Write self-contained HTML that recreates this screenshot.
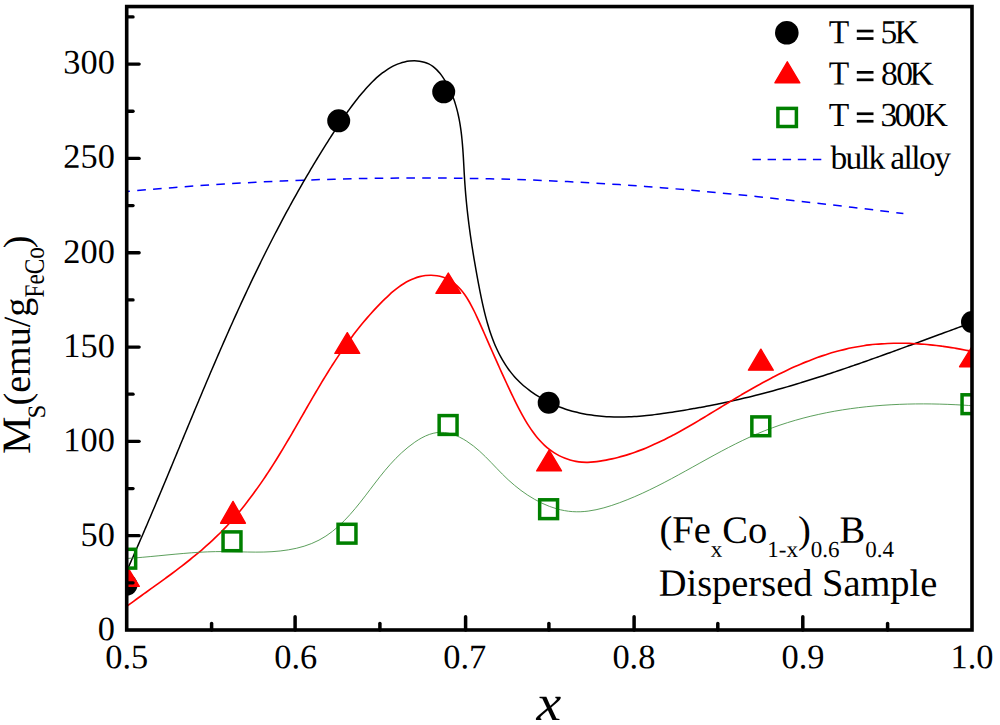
<!DOCTYPE html>
<html><head><meta charset="utf-8"><title>Ms vs x</title>
<style>
html,body{margin:0;padding:0;background:#fff;}
body{width:1000px;height:725px;overflow:hidden;}
svg{display:block;}
text{font-family:"Liberation Serif",serif;fill:#000;}
</style></head><body>
<svg width="1000" height="725" viewBox="0 0 1000 725">
<rect x="0" y="0" width="1000" height="725" fill="#fff"/>
<defs><clipPath id="plot"><rect x="126.70" y="6.55" width="845.30" height="623.45"/></clipPath></defs>
<g clip-path="url(#plot)">
<path d="M126.68 191.48 C131.00 191.10 143.92 189.95 152.55 189.23 C161.17 188.52 169.80 187.84 178.43 187.19 C187.06 186.54 195.69 185.92 204.33 185.34 C212.96 184.76 221.60 184.21 230.24 183.70 C238.88 183.18 247.52 182.70 256.16 182.26 C264.80 181.81 273.45 181.40 282.10 181.02 C290.74 180.65 299.39 180.30 308.04 180.00 C316.69 179.69 325.34 179.42 333.99 179.18 C342.64 178.94 351.29 178.74 359.94 178.58 C368.59 178.41 377.25 178.28 385.90 178.19 C394.55 178.09 403.21 178.03 411.86 178.01 C420.51 177.99 429.16 178.00 437.82 178.05 C446.47 178.11 455.12 178.19 463.77 178.32 C472.42 178.44 481.07 178.60 489.72 178.80 C498.37 179.00 507.02 179.24 515.67 179.51 C524.32 179.78 532.96 180.09 541.61 180.44 C550.25 180.79 558.89 181.18 567.53 181.61 C576.17 182.03 584.81 182.50 593.45 183.00 C602.08 183.50 610.72 184.04 619.35 184.62 C627.98 185.20 636.61 185.81 645.24 186.46 C653.86 187.11 662.49 187.80 671.11 188.51 C679.73 189.22 688.35 189.97 696.97 190.75 C705.59 191.52 714.20 192.33 722.82 193.16 C731.43 193.99 740.04 194.85 748.65 195.73 C757.26 196.61 765.86 197.51 774.47 198.44 C783.07 199.37 791.68 200.31 800.28 201.28 C808.88 202.25 817.47 203.23 826.07 204.23 C834.67 205.23 843.26 206.25 851.85 207.28 C860.44 208.31 869.03 209.36 877.62 210.41 C886.21 211.46 899.08 213.07 903.38 213.61" fill="none" stroke="#0000ff" stroke-width="1.5" stroke-dasharray="8.6 7.25" stroke-dashoffset="5.2"/>
<path d="M126.60 571.32 C126.94 570.55 127.97 568.25 128.66 566.72 C129.34 565.18 130.02 563.65 130.70 562.11 C131.38 560.58 132.06 559.04 132.74 557.51 C133.41 555.97 134.09 554.43 134.76 552.90 C135.44 551.36 136.11 549.82 136.78 548.28 C137.45 546.75 138.12 545.21 138.79 543.67 C139.46 542.13 140.13 540.59 140.79 539.05 C141.46 537.51 142.12 535.97 142.79 534.43 C143.45 532.89 144.11 531.35 144.77 529.81 C145.43 528.27 146.09 526.73 146.75 525.19 C147.41 523.64 148.07 522.10 148.72 520.56 C149.38 519.02 150.04 517.48 150.69 515.93 C151.35 514.39 152.00 512.85 152.65 511.30 C153.30 509.76 153.96 508.22 154.61 506.67 C155.26 505.13 155.91 503.59 156.56 502.04 C157.21 500.50 157.86 498.95 158.50 497.41 C159.15 495.86 159.80 494.32 160.45 492.78 C161.09 491.23 161.74 489.69 162.38 488.14 C163.03 486.60 163.67 485.05 164.32 483.50 C164.96 481.96 165.61 480.41 166.25 478.87 C166.89 477.32 167.53 475.78 168.18 474.23 C168.82 472.69 169.46 471.14 170.10 469.59 C170.75 468.05 171.39 466.50 172.03 464.96 C172.67 463.41 173.31 461.86 173.95 460.32 C174.59 458.77 175.23 457.23 175.87 455.68 C176.51 454.13 177.15 452.59 177.79 451.04 C178.43 449.50 179.07 447.95 179.71 446.40 C180.35 444.86 180.99 443.31 181.63 441.77 C182.27 440.22 182.91 438.68 183.55 437.13 C184.19 435.58 184.83 434.04 185.47 432.49 C186.12 430.95 186.76 429.40 187.40 427.86 C188.04 426.31 188.68 424.77 189.32 423.22 C189.96 421.68 190.60 420.13 191.25 418.59 C191.89 417.04 192.53 415.50 193.17 413.96 C193.82 412.41 194.46 410.87 195.11 409.32 C195.75 407.78 196.39 406.24 197.04 404.69 C197.68 403.15 198.33 401.61 198.98 400.07 C199.62 398.52 200.27 396.98 200.92 395.44 C201.56 393.90 202.21 392.35 202.86 390.81 C203.51 389.27 204.16 387.73 204.81 386.19 C205.46 384.65 206.11 383.11 206.77 381.57 C207.42 380.03 208.07 378.49 208.73 376.95 C209.38 375.41 210.03 373.87 210.69 372.33 C211.35 370.79 212.00 369.26 212.66 367.72 C213.32 366.18 213.98 364.64 214.64 363.11 C215.30 361.57 215.96 360.03 216.63 358.50 C217.29 356.96 217.95 355.42 218.62 353.89 C219.28 352.35 219.95 350.82 220.62 349.28 C221.28 347.75 221.95 346.22 222.62 344.68 C223.29 343.15 223.97 341.62 224.64 340.09 C225.31 338.55 225.99 337.02 226.67 335.49 C227.34 333.96 228.02 332.43 228.70 330.90 C229.38 329.37 230.06 327.84 230.74 326.31 C231.42 324.78 232.11 323.26 232.80 321.73 C233.48 320.20 234.17 318.67 234.86 317.15 C235.55 315.62 236.24 314.10 236.93 312.57 C237.63 311.05 238.32 309.52 239.02 308.00 C239.72 306.48 240.41 304.95 241.11 303.43 C241.82 301.91 242.52 300.39 243.22 298.87 C243.93 297.35 244.63 295.83 245.34 294.31 C246.05 292.79 246.76 291.27 247.48 289.75 C248.19 288.24 248.91 286.72 249.62 285.20 C250.34 283.69 251.06 282.17 251.78 280.66 C252.50 279.15 253.23 277.63 253.96 276.12 C254.68 274.61 255.41 273.10 256.14 271.58 C256.87 270.07 257.61 268.56 258.34 267.05 C259.08 265.55 259.82 264.04 260.56 262.53 C261.30 261.02 262.05 259.52 262.79 258.01 C263.54 256.51 264.29 255.00 265.04 253.50 C265.79 251.99 266.54 250.49 267.30 248.99 C268.06 247.49 268.82 245.99 269.58 244.49 C270.34 242.99 271.10 241.49 271.87 240.00 C272.64 238.50 273.41 237.01 274.18 235.51 C274.95 234.02 275.73 232.53 276.50 231.04 C277.28 229.55 278.06 228.06 278.84 226.57 C279.62 225.08 280.41 223.59 281.20 222.11 C281.98 220.63 282.77 219.14 283.57 217.66 C284.36 216.18 285.16 214.70 285.95 213.22 C286.75 211.74 287.55 210.27 288.36 208.79 C289.16 207.32 289.96 205.84 290.77 204.37 C291.58 202.90 292.39 201.43 293.21 199.97 C294.02 198.50 294.84 197.03 295.66 195.57 C296.48 194.11 297.30 192.65 298.12 191.19 C298.95 189.73 299.77 188.27 300.60 186.82 C301.43 185.36 302.27 183.91 303.10 182.46 C303.94 181.01 304.78 179.56 305.62 178.12 C306.46 176.67 307.30 175.23 308.15 173.79 C308.99 172.34 309.84 170.91 310.69 169.47 C311.55 168.03 312.40 166.60 313.26 165.17 C314.11 163.74 314.97 162.31 315.84 160.88 C316.70 159.46 317.57 158.03 318.43 156.61 C319.30 155.19 320.17 153.77 321.05 152.36 C321.92 150.94 322.80 149.53 323.68 148.12 C324.56 146.71 325.44 145.30 326.32 143.90 C327.21 142.49 328.09 141.09 328.99 139.69 C329.88 138.30 330.77 136.90 331.66 135.51 C332.56 134.12 333.46 132.73 334.36 131.34 C335.26 129.96 336.17 128.57 337.08 127.19 C337.99 125.81 338.90 124.44 339.82 123.06 C340.74 121.69 341.67 120.32 342.61 118.96 C343.54 117.59 344.48 116.23 345.44 114.87 C346.39 113.51 347.35 112.16 348.32 110.81 C349.30 109.46 350.28 108.12 351.28 106.77 C352.27 105.43 353.28 104.10 354.31 102.76 C355.33 101.43 356.37 100.10 357.42 98.78 C358.48 97.46 359.55 96.14 360.64 94.83 C361.73 93.51 362.83 92.20 363.96 90.90 C365.08 89.60 366.22 88.30 367.39 87.03 C368.55 85.75 369.74 84.49 370.94 83.25 C372.15 82.02 373.37 80.80 374.62 79.62 C375.87 78.44 377.14 77.28 378.44 76.17 C379.74 75.06 381.05 73.98 382.40 72.96 C383.74 71.93 385.11 70.95 386.51 70.02 C387.90 69.10 389.32 68.22 390.77 67.41 C392.22 66.60 393.69 65.85 395.20 65.17 C396.70 64.49 398.23 63.88 399.79 63.34 C401.36 62.81 402.95 62.35 404.57 61.98 C406.19 61.61 407.85 61.31 409.51 61.12 C411.16 60.93 412.85 60.82 414.51 60.83 C416.17 60.83 417.85 60.93 419.47 61.15 C421.09 61.38 422.71 61.70 424.26 62.16 C425.81 62.61 427.32 63.19 428.76 63.90 C430.19 64.60 431.56 65.46 432.86 66.41 C434.16 67.36 435.39 68.45 436.57 69.60 C437.74 70.75 438.85 72.01 439.91 73.31 C440.96 74.61 441.96 76.00 442.91 77.40 C443.87 78.79 444.77 80.25 445.63 81.70 C446.49 83.15 447.30 84.63 448.08 86.11 C448.85 87.60 449.59 89.10 450.28 90.62 C450.98 92.13 451.63 93.66 452.25 95.20 C452.87 96.74 453.45 98.30 454.00 99.87 C454.55 101.43 455.07 103.01 455.55 104.60 C456.04 106.19 456.49 107.79 456.91 109.40 C457.34 111.01 457.73 112.63 458.10 114.26 C458.47 115.89 458.81 117.53 459.13 119.17 C459.45 120.82 459.74 122.47 460.02 124.13 C460.29 125.79 460.54 127.46 460.78 129.13 C461.01 130.81 461.23 132.49 461.42 134.17 C461.62 135.85 461.80 137.54 461.97 139.23 C462.14 140.92 462.30 142.62 462.44 144.32 C462.58 146.02 462.71 147.72 462.84 149.42 C462.96 151.12 463.07 152.83 463.18 154.53 C463.29 156.24 463.39 157.94 463.49 159.65 C463.59 161.35 463.68 163.06 463.77 164.76 C463.87 166.46 463.96 168.17 464.05 169.87 C464.14 171.57 464.23 173.26 464.33 174.96 C464.43 176.65 464.53 178.34 464.64 180.03 C464.74 181.71 464.86 183.40 464.98 185.07 C465.10 186.75 465.22 188.42 465.35 190.09 C465.49 191.76 465.62 193.43 465.77 195.09 C465.91 196.75 466.06 198.41 466.22 200.07 C466.37 201.72 466.53 203.38 466.70 205.03 C466.87 206.68 467.04 208.32 467.22 209.97 C467.40 211.62 467.58 213.26 467.77 214.90 C467.96 216.54 468.16 218.18 468.36 219.82 C468.56 221.46 468.76 223.09 468.97 224.73 C469.18 226.37 469.40 228.00 469.62 229.63 C469.84 231.27 470.06 232.90 470.29 234.54 C470.52 236.17 470.76 237.80 471.00 239.43 C471.24 241.07 471.48 242.70 471.73 244.33 C471.98 245.97 472.24 247.60 472.50 249.24 C472.75 250.87 473.02 252.51 473.28 254.15 C473.55 255.78 473.82 257.42 474.10 259.06 C474.37 260.70 474.65 262.35 474.94 263.99 C475.22 265.64 475.51 267.28 475.80 268.93 C476.09 270.58 476.39 272.23 476.69 273.89 C476.99 275.54 477.29 277.20 477.60 278.86 C477.91 280.52 478.22 282.18 478.53 283.85 C478.85 285.52 479.17 287.19 479.49 288.86 C479.81 290.53 480.14 292.21 480.48 293.88 C480.81 295.56 481.15 297.24 481.51 298.91 C481.86 300.59 482.21 302.26 482.58 303.93 C482.95 305.61 483.33 307.28 483.72 308.94 C484.11 310.61 484.51 312.27 484.93 313.93 C485.35 315.59 485.77 317.24 486.22 318.89 C486.66 320.54 487.12 322.18 487.59 323.81 C488.07 325.44 488.56 327.06 489.07 328.68 C489.58 330.29 490.10 331.90 490.65 333.49 C491.19 335.09 491.76 336.67 492.34 338.24 C492.93 339.81 493.54 341.37 494.17 342.92 C494.80 344.46 495.45 345.99 496.13 347.51 C496.81 349.03 497.51 350.53 498.24 352.01 C498.96 353.50 499.71 354.97 500.50 356.42 C501.28 357.86 502.08 359.30 502.92 360.71 C503.76 362.12 504.62 363.52 505.52 364.89 C506.42 366.26 507.34 367.61 508.30 368.94 C509.26 370.27 510.25 371.57 511.28 372.86 C512.31 374.14 513.36 375.40 514.46 376.63 C515.55 377.87 516.68 379.07 517.85 380.26 C519.01 381.44 520.21 382.59 521.44 383.72 C522.67 384.85 523.94 385.96 525.22 387.03 C526.51 388.10 527.84 389.15 529.18 390.17 C530.52 391.19 531.90 392.18 533.29 393.15 C534.68 394.11 536.10 395.05 537.54 395.95 C538.98 396.86 540.44 397.73 541.91 398.58 C543.39 399.43 544.88 400.25 546.39 401.03 C547.90 401.82 549.42 402.58 550.96 403.30 C552.49 404.03 554.04 404.72 555.59 405.38 C557.15 406.05 558.72 406.68 560.29 407.28 C561.86 407.88 563.44 408.44 565.03 408.98 C566.61 409.52 568.21 410.02 569.80 410.50 C571.40 410.97 573.00 411.42 574.61 411.84 C576.22 412.25 577.84 412.64 579.46 413.00 C581.08 413.36 582.70 413.69 584.33 414.00 C585.96 414.31 587.59 414.59 589.23 414.84 C590.87 415.10 592.51 415.33 594.16 415.54 C595.80 415.74 597.45 415.92 599.11 416.08 C600.76 416.24 602.42 416.38 604.08 416.50 C605.74 416.61 607.40 416.70 609.07 416.78 C610.73 416.85 612.40 416.90 614.07 416.93 C615.74 416.97 617.42 416.98 619.09 416.98 C620.77 416.97 622.44 416.95 624.12 416.91 C625.80 416.87 627.48 416.81 629.16 416.74 C630.85 416.67 632.53 416.58 634.21 416.48 C635.90 416.38 637.58 416.26 639.27 416.13 C640.95 416.00 642.64 415.85 644.32 415.70 C646.01 415.54 647.69 415.37 649.38 415.19 C651.06 415.01 652.75 414.82 654.43 414.62 C656.11 414.42 657.80 414.21 659.48 413.99 C661.16 413.77 662.84 413.54 664.52 413.31 C666.20 413.07 667.88 412.83 669.56 412.58 C671.23 412.33 672.91 412.07 674.58 411.81 C676.25 411.55 677.92 411.28 679.59 411.01 C681.26 410.74 682.92 410.46 684.58 410.18 C686.24 409.91 687.90 409.62 689.56 409.34 C691.22 409.05 692.87 408.76 694.52 408.46 C696.18 408.17 697.83 407.87 699.47 407.56 C701.12 407.26 702.77 406.95 704.41 406.64 C706.05 406.33 707.70 406.01 709.33 405.69 C710.97 405.37 712.61 405.05 714.25 404.72 C715.88 404.39 717.52 404.06 719.15 403.72 C720.78 403.38 722.41 403.04 724.04 402.69 C725.67 402.35 727.30 402.00 728.92 401.64 C730.55 401.29 732.17 400.93 733.80 400.56 C735.42 400.20 737.04 399.83 738.66 399.45 C740.28 399.08 741.90 398.70 743.52 398.32 C745.14 397.94 746.76 397.55 748.37 397.16 C749.99 396.77 751.60 396.37 753.22 395.97 C754.83 395.57 756.45 395.16 758.06 394.75 C759.68 394.34 761.29 393.92 762.90 393.50 C764.51 393.08 766.12 392.65 767.73 392.22 C769.35 391.79 770.96 391.36 772.57 390.92 C774.17 390.48 775.78 390.04 777.39 389.59 C779.00 389.14 780.61 388.69 782.22 388.23 C783.82 387.77 785.43 387.31 787.04 386.85 C788.64 386.38 790.25 385.92 791.85 385.44 C793.46 384.97 795.06 384.49 796.66 384.01 C798.27 383.53 799.87 383.05 801.47 382.56 C803.07 382.07 804.68 381.58 806.28 381.09 C807.88 380.59 809.48 380.09 811.08 379.59 C812.68 379.09 814.28 378.59 815.88 378.08 C817.47 377.57 819.07 377.06 820.67 376.54 C822.27 376.03 823.86 375.51 825.46 374.99 C827.06 374.47 828.65 373.95 830.25 373.42 C831.84 372.90 833.44 372.37 835.03 371.84 C836.62 371.31 838.22 370.77 839.81 370.24 C841.40 369.70 842.99 369.16 844.58 368.62 C846.18 368.08 847.77 367.54 849.36 366.99 C850.95 366.45 852.54 365.90 854.12 365.35 C855.71 364.80 857.30 364.25 858.89 363.69 C860.48 363.14 862.06 362.58 863.65 362.03 C865.24 361.47 866.82 360.91 868.41 360.35 C869.99 359.79 871.58 359.23 873.16 358.66 C874.74 358.10 876.33 357.54 877.91 356.97 C879.49 356.40 881.07 355.84 882.66 355.27 C884.24 354.70 885.82 354.13 887.40 353.56 C888.98 352.99 890.56 352.41 892.14 351.84 C893.72 351.27 895.29 350.69 896.87 350.12 C898.45 349.55 900.03 348.97 901.60 348.40 C903.18 347.82 904.76 347.24 906.33 346.67 C907.91 346.09 909.48 345.51 911.06 344.93 C912.63 344.36 914.20 343.78 915.78 343.20 C917.35 342.62 918.92 342.05 920.49 341.47 C922.06 340.89 923.63 340.31 925.21 339.73 C926.78 339.15 928.35 338.58 929.91 338.00 C931.48 337.42 933.05 336.84 934.62 336.27 C936.19 335.69 937.76 335.11 939.32 334.54 C940.89 333.96 942.45 333.39 944.02 332.81 C945.59 332.24 947.15 331.66 948.71 331.09 C950.28 330.52 951.84 329.94 953.41 329.37 C954.97 328.80 956.53 328.23 958.09 327.66 C959.65 327.09 961.22 326.53 962.78 325.96 C964.34 325.39 965.90 324.83 967.46 324.26 C969.01 323.70 971.35 322.86 972.13 322.57" fill="none" stroke="#000" stroke-width="1.5"/>
<path d="M126.64 606.42 C127.45 605.82 129.87 604.03 131.50 602.84 C133.12 601.65 134.74 600.47 136.37 599.29 C138.00 598.10 139.64 596.93 141.27 595.75 C142.90 594.57 144.54 593.39 146.18 592.22 C147.81 591.04 149.45 589.86 151.09 588.68 C152.73 587.51 154.36 586.33 156.00 585.15 C157.64 583.97 159.27 582.79 160.91 581.60 C162.54 580.42 164.17 579.23 165.80 578.04 C167.43 576.85 169.06 575.66 170.68 574.46 C172.30 573.26 173.91 572.05 175.53 570.84 C177.14 569.63 178.75 568.42 180.35 567.19 C181.95 565.97 183.54 564.74 185.13 563.50 C186.72 562.26 188.30 561.01 189.87 559.76 C191.44 558.50 193.01 557.24 194.56 555.96 C196.12 554.69 197.67 553.41 199.20 552.11 C200.74 550.81 202.26 549.51 203.78 548.19 C205.29 546.87 206.80 545.54 208.29 544.19 C209.78 542.85 211.26 541.49 212.73 540.12 C214.19 538.75 215.64 537.36 217.08 535.96 C218.52 534.56 219.95 533.14 221.36 531.71 C222.77 530.28 224.16 528.83 225.54 527.37 C226.92 525.91 228.29 524.43 229.64 522.94 C231.00 521.44 232.34 519.94 233.66 518.42 C234.99 516.90 236.30 515.37 237.60 513.82 C238.90 512.28 240.18 510.72 241.46 509.15 C242.73 507.58 243.99 506.00 245.24 504.41 C246.49 502.82 247.73 501.22 248.96 499.61 C250.18 498.00 251.40 496.37 252.60 494.74 C253.81 493.11 255.00 491.47 256.18 489.83 C257.36 488.18 258.53 486.52 259.69 484.86 C260.86 483.20 262.01 481.53 263.15 479.85 C264.29 478.17 265.42 476.49 266.54 474.80 C267.66 473.11 268.78 471.41 269.88 469.71 C270.98 468.01 272.08 466.31 273.17 464.60 C274.25 462.89 275.33 461.18 276.40 459.46 C277.47 457.75 278.53 456.02 279.59 454.30 C280.64 452.58 281.69 450.86 282.73 449.13 C283.77 447.40 284.81 445.68 285.83 443.95 C286.86 442.22 287.88 440.48 288.90 438.75 C289.92 437.02 290.93 435.29 291.94 433.55 C292.95 431.82 293.96 430.08 294.96 428.35 C295.97 426.61 296.97 424.88 297.97 423.14 C298.96 421.40 299.96 419.67 300.96 417.93 C301.95 416.20 302.95 414.46 303.94 412.73 C304.94 411.00 305.93 409.26 306.93 407.53 C307.93 405.80 308.92 404.07 309.92 402.34 C310.92 400.61 311.92 398.88 312.93 397.16 C313.93 395.43 314.94 393.71 315.95 391.99 C316.96 390.27 317.98 388.55 319.00 386.84 C320.02 385.12 321.04 383.41 322.07 381.70 C323.10 379.99 324.14 378.28 325.18 376.58 C326.23 374.88 327.28 373.18 328.34 371.49 C329.40 369.79 330.46 368.10 331.54 366.42 C332.61 364.73 333.69 363.05 334.79 361.37 C335.88 359.70 336.98 358.02 338.10 356.36 C339.21 354.69 340.33 353.03 341.47 351.38 C342.61 349.72 343.75 348.07 344.91 346.43 C346.07 344.78 347.24 343.15 348.43 341.51 C349.62 339.88 350.82 338.26 352.03 336.64 C353.24 335.02 354.47 333.41 355.72 331.81 C356.96 330.21 358.22 328.61 359.50 327.02 C360.77 325.43 362.06 323.85 363.37 322.28 C364.68 320.71 366.01 319.14 367.36 317.59 C368.70 316.03 370.06 314.48 371.45 312.94 C372.83 311.41 374.23 309.88 375.65 308.35 C377.08 306.83 378.52 305.32 379.98 303.82 C381.45 302.32 382.93 300.83 384.44 299.36 C385.95 297.90 387.47 296.45 389.03 295.05 C390.58 293.65 392.15 292.27 393.75 290.96 C395.35 289.64 396.97 288.36 398.62 287.17 C400.27 285.97 401.94 284.82 403.64 283.76 C405.34 282.70 407.06 281.70 408.81 280.81 C410.56 279.92 412.34 279.10 414.14 278.40 C415.95 277.70 417.78 277.09 419.64 276.62 C421.50 276.14 423.39 275.76 425.31 275.53 C427.22 275.29 429.19 275.18 431.13 275.21 C433.07 275.24 435.05 275.40 436.97 275.70 C438.88 276.00 440.80 276.44 442.62 277.02 C444.45 277.60 446.22 278.32 447.91 279.17 C449.59 280.02 451.19 281.02 452.73 282.13 C454.26 283.23 455.72 284.47 457.12 285.79 C458.52 287.11 459.85 288.55 461.13 290.06 C462.41 291.57 463.63 293.18 464.81 294.84 C465.98 296.51 467.10 298.25 468.19 300.04 C469.27 301.82 470.31 303.67 471.31 305.54 C472.32 307.40 473.29 309.32 474.23 311.25 C475.18 313.17 476.09 315.12 476.99 317.07 C477.89 319.01 478.76 320.97 479.62 322.90 C480.49 324.83 481.34 326.75 482.18 328.65 C483.02 330.55 483.85 332.43 484.68 334.29 C485.50 336.16 486.32 338.01 487.13 339.85 C487.94 341.69 488.74 343.52 489.54 345.33 C490.34 347.15 491.14 348.95 491.93 350.75 C492.73 352.55 493.52 354.34 494.31 356.13 C495.10 357.91 495.89 359.69 496.68 361.46 C497.47 363.24 498.26 365.01 499.06 366.78 C499.86 368.56 500.65 370.32 501.46 372.10 C502.26 373.87 503.07 375.64 503.88 377.42 C504.70 379.19 505.52 380.97 506.35 382.76 C507.18 384.55 508.01 386.34 508.86 388.14 C509.71 389.94 510.57 391.74 511.44 393.56 C512.31 395.38 513.19 397.22 514.09 399.05 C514.98 400.89 515.89 402.75 516.82 404.60 C517.75 406.45 518.70 408.31 519.67 410.16 C520.64 412.01 521.62 413.86 522.64 415.68 C523.66 417.51 524.70 419.33 525.77 421.12 C526.84 422.90 527.94 424.68 529.08 426.41 C530.21 428.15 531.38 429.86 532.59 431.53 C533.79 433.19 535.03 434.83 536.32 436.41 C537.60 437.99 538.92 439.53 540.29 441.01 C541.66 442.48 543.08 443.92 544.54 445.27 C546.00 446.63 547.51 447.94 549.08 449.16 C550.64 450.38 552.26 451.54 553.93 452.62 C555.59 453.69 557.31 454.69 559.07 455.61 C560.83 456.52 562.63 457.35 564.47 458.09 C566.30 458.83 568.18 459.49 570.08 460.04 C571.99 460.59 573.92 461.06 575.88 461.42 C577.84 461.77 579.82 462.03 581.82 462.18 C583.82 462.33 585.84 462.36 587.87 462.32 C589.89 462.27 591.93 462.11 593.96 461.91 C595.99 461.71 598.03 461.43 600.04 461.13 C602.06 460.83 604.06 460.48 606.05 460.11 C608.04 459.73 610.02 459.33 611.98 458.89 C613.95 458.45 615.90 457.98 617.84 457.48 C619.78 456.98 621.71 456.45 623.63 455.89 C625.55 455.33 627.45 454.74 629.35 454.13 C631.25 453.52 633.13 452.88 635.01 452.21 C636.88 451.54 638.75 450.85 640.61 450.14 C642.47 449.42 644.32 448.68 646.16 447.92 C648.00 447.16 649.83 446.38 651.65 445.58 C653.48 444.78 655.30 443.95 657.11 443.11 C658.92 442.27 660.72 441.41 662.51 440.53 C664.31 439.65 666.10 438.76 667.89 437.85 C669.67 436.94 671.45 436.01 673.22 435.07 C675.00 434.13 676.77 433.17 678.53 432.21 C680.30 431.24 682.06 430.26 683.81 429.27 C685.57 428.29 687.32 427.28 689.07 426.27 C690.82 425.27 692.57 424.25 694.32 423.22 C696.06 422.20 697.80 421.16 699.54 420.12 C701.28 419.08 703.02 418.04 704.76 416.99 C706.50 415.94 708.24 414.88 709.97 413.83 C711.71 412.77 713.45 411.71 715.18 410.65 C716.92 409.59 718.66 408.53 720.40 407.47 C722.14 406.41 723.87 405.35 725.62 404.29 C727.36 403.23 729.10 402.18 730.84 401.12 C732.59 400.07 734.34 399.02 736.09 397.98 C737.84 396.94 739.59 395.90 741.34 394.86 C743.10 393.83 744.86 392.80 746.62 391.78 C748.38 390.76 750.14 389.74 751.91 388.74 C753.68 387.73 755.45 386.73 757.22 385.74 C758.99 384.75 760.77 383.77 762.55 382.80 C764.33 381.83 766.11 380.86 767.90 379.91 C769.69 378.96 771.48 378.02 773.28 377.09 C775.07 376.16 776.87 375.25 778.68 374.34 C780.48 373.44 782.29 372.55 784.11 371.67 C785.92 370.79 787.74 369.93 789.56 369.08 C791.38 368.23 793.21 367.40 795.04 366.58 C796.87 365.76 798.71 364.96 800.55 364.17 C802.40 363.39 804.24 362.62 806.10 361.87 C807.95 361.12 809.81 360.39 811.67 359.67 C813.54 358.96 815.41 358.26 817.29 357.59 C819.16 356.91 821.04 356.26 822.93 355.62 C824.82 354.99 826.71 354.38 828.62 353.79 C830.52 353.20 832.42 352.63 834.34 352.08 C836.25 351.53 838.17 351.01 840.10 350.51 C842.03 350.01 843.96 349.54 845.90 349.09 C847.84 348.64 849.79 348.21 851.75 347.81 C853.70 347.41 855.66 347.04 857.63 346.69 C859.60 346.35 861.58 346.03 863.57 345.74 C865.55 345.45 867.54 345.18 869.54 344.94 C871.54 344.70 873.54 344.49 875.55 344.30 C877.56 344.12 879.58 343.96 881.59 343.82 C883.61 343.68 885.63 343.57 887.66 343.48 C889.68 343.39 891.71 343.32 893.74 343.28 C895.77 343.24 897.81 343.22 899.84 343.22 C901.87 343.22 903.91 343.25 905.94 343.29 C907.97 343.34 910.01 343.41 912.04 343.49 C914.08 343.58 916.11 343.69 918.14 343.82 C920.17 343.94 922.20 344.09 924.22 344.26 C926.25 344.42 928.27 344.61 930.29 344.81 C932.31 345.01 934.33 345.24 936.34 345.47 C938.35 345.71 940.35 345.97 942.35 346.24 C944.35 346.51 946.35 346.80 948.33 347.10 C950.32 347.40 952.30 347.72 954.27 348.06 C956.24 348.39 958.21 348.74 960.17 349.10 C962.12 349.47 964.07 349.84 966.00 350.23 C967.94 350.62 970.82 351.24 971.78 351.44" fill="none" stroke="#ff0000" stroke-width="1.65"/>
<circle cx="126.70" cy="584.80" r="10.80" fill="#000"/>
<circle cx="338.70" cy="120.80" r="11.50" fill="#000"/>
<circle cx="443.70" cy="91.80" r="11.50" fill="#000"/>
<circle cx="548.70" cy="402.70" r="11.00" fill="#000"/>
<circle cx="972.00" cy="322.00" r="11.00" fill="#000"/>
<path d="M126.90 566.10 L139.30 586.30 L114.50 586.30 Z" fill="#ff0000" stroke="#ff0000" stroke-width="1.40" stroke-linejoin="round"/>
<path d="M233.00 501.40 L245.40 523.20 L220.60 523.20 Z" fill="#ff0000" stroke="#ff0000" stroke-width="1.40" stroke-linejoin="round"/>
<path d="M347.30 332.70 L359.70 353.40 L334.90 353.40 Z" fill="#ff0000" stroke="#ff0000" stroke-width="1.40" stroke-linejoin="round"/>
<path d="M448.30 273.10 L460.70 293.30 L435.90 293.30 Z" fill="#ff0000" stroke="#ff0000" stroke-width="1.40" stroke-linejoin="round"/>
<path d="M549.10 450.20 L561.50 470.90 L536.70 470.90 Z" fill="#ff0000" stroke="#ff0000" stroke-width="1.40" stroke-linejoin="round"/>
<path d="M760.86 349.15 L773.26 370.16 L748.46 370.16 Z" fill="#ff0000" stroke="#ff0000" stroke-width="1.40" stroke-linejoin="round"/>
<path d="M972.00 346.50 L984.40 366.70 L959.60 366.70 Z" fill="#ff0000" stroke="#ff0000" stroke-width="1.40" stroke-linejoin="round"/>
<path d="M126.71 558.49 C128.05 558.40 132.05 558.13 134.73 557.93 C137.41 557.72 140.09 557.49 142.77 557.26 C145.46 557.03 148.14 556.78 150.83 556.53 C153.52 556.28 156.21 556.01 158.91 555.75 C161.60 555.49 164.30 555.22 166.99 554.96 C169.69 554.70 172.39 554.44 175.09 554.19 C177.79 553.94 180.49 553.70 183.19 553.47 C185.88 553.24 188.58 553.02 191.28 552.82 C193.98 552.62 196.68 552.43 199.37 552.28 C202.07 552.12 204.76 551.97 207.46 551.86 C210.15 551.75 212.84 551.67 215.53 551.61 C218.21 551.56 220.90 551.55 223.58 551.55 C226.26 551.56 228.94 551.61 231.62 551.66 C234.30 551.71 236.98 551.79 239.66 551.85 C242.34 551.91 245.02 551.99 247.71 552.03 C250.39 552.08 253.08 552.12 255.77 552.12 C258.47 552.12 261.16 552.11 263.87 552.04 C266.58 551.96 269.29 551.86 272.01 551.68 C274.73 551.51 277.46 551.28 280.17 550.98 C282.89 550.68 285.61 550.32 288.30 549.87 C290.99 549.43 293.68 548.91 296.32 548.30 C298.96 547.68 301.59 546.99 304.16 546.19 C306.73 545.38 309.28 544.49 311.75 543.48 C314.23 542.47 316.67 541.36 319.03 540.12 C321.39 538.89 323.69 537.52 325.92 536.07 C328.16 534.61 330.32 533.02 332.44 531.37 C334.55 529.72 336.60 527.96 338.60 526.16 C340.60 524.35 342.55 522.45 344.44 520.53 C346.34 518.60 348.19 516.60 349.99 514.59 C351.80 512.58 353.55 510.53 355.28 508.46 C357.00 506.40 358.69 504.30 360.36 502.19 C362.03 500.09 363.66 497.96 365.30 495.83 C366.94 493.70 368.55 491.56 370.18 489.42 C371.80 487.28 373.42 485.14 375.05 483.01 C376.69 480.89 378.32 478.76 379.99 476.65 C381.66 474.55 383.34 472.46 385.06 470.39 C386.79 468.33 388.53 466.28 390.33 464.27 C392.14 462.27 393.97 460.28 395.87 458.34 C397.78 456.41 399.72 454.50 401.75 452.65 C403.77 450.80 405.85 448.99 408.02 447.25 C410.19 445.50 412.44 443.77 414.75 442.19 C417.06 440.62 419.46 439.08 421.89 437.79 C424.32 436.49 426.81 435.31 429.32 434.44 C431.83 433.57 434.38 432.89 436.93 432.57 C439.48 432.26 442.06 432.26 444.61 432.53 C447.15 432.80 449.71 433.40 452.22 434.18 C454.72 434.95 457.22 436.01 459.64 437.18 C462.05 438.36 464.44 439.75 466.73 441.21 C469.02 442.67 471.23 444.29 473.37 445.94 C475.50 447.59 477.54 449.35 479.55 451.13 C481.56 452.92 483.49 454.79 485.41 456.67 C487.33 458.56 489.20 460.50 491.07 462.43 C492.95 464.37 494.80 466.34 496.68 468.29 C498.56 470.24 500.44 472.21 502.36 474.13 C504.29 476.06 506.24 477.97 508.26 479.83 C510.27 481.69 512.34 483.52 514.46 485.28 C516.57 487.04 518.74 488.76 520.95 490.41 C523.16 492.05 525.42 493.64 527.71 495.15 C530.01 496.65 532.35 498.09 534.72 499.42 C537.09 500.76 539.50 502.03 541.93 503.18 C544.37 504.33 546.84 505.40 549.33 506.35 C551.82 507.29 554.35 508.14 556.89 508.85 C559.43 509.57 561.99 510.17 564.57 510.63 C567.15 511.10 569.75 511.44 572.35 511.62 C574.96 511.81 577.58 511.85 580.21 511.76 C582.84 511.68 585.47 511.43 588.11 511.10 C590.74 510.76 593.39 510.29 596.02 509.74 C598.65 509.20 601.29 508.54 603.91 507.82 C606.54 507.10 609.16 506.29 611.76 505.44 C614.36 504.59 616.95 503.67 619.52 502.73 C622.09 501.78 624.65 500.79 627.18 499.78 C629.72 498.76 632.24 497.71 634.75 496.64 C637.25 495.56 639.74 494.45 642.22 493.32 C644.69 492.18 647.16 491.02 649.61 489.84 C652.06 488.67 654.50 487.46 656.93 486.24 C659.36 485.02 661.77 483.78 664.19 482.52 C666.60 481.27 669.00 480.00 671.39 478.72 C673.79 477.44 676.17 476.14 678.56 474.84 C680.94 473.54 683.32 472.23 685.69 470.92 C688.06 469.61 690.43 468.29 692.80 466.97 C695.17 465.66 697.54 464.33 699.90 463.02 C702.27 461.70 704.63 460.39 707.00 459.08 C709.36 457.77 711.73 456.47 714.10 455.18 C716.47 453.89 718.85 452.60 721.22 451.33 C723.60 450.07 725.98 448.81 728.37 447.57 C730.76 446.33 733.15 445.10 735.56 443.90 C737.96 442.70 740.37 441.52 742.79 440.36 C745.21 439.20 747.64 438.06 750.08 436.96 C752.52 435.85 754.97 434.77 757.43 433.72 C759.89 432.67 762.37 431.65 764.86 430.67 C767.35 429.68 769.85 428.73 772.37 427.80 C774.88 426.88 777.41 425.99 779.94 425.12 C782.48 424.26 785.03 423.43 787.59 422.62 C790.15 421.82 792.72 421.05 795.30 420.30 C797.87 419.56 800.46 418.84 803.06 418.15 C805.66 417.46 808.27 416.80 810.88 416.17 C813.50 415.54 816.12 414.94 818.75 414.36 C821.38 413.78 824.02 413.23 826.67 412.70 C829.31 412.18 831.97 411.68 834.63 411.20 C837.28 410.73 839.95 410.28 842.62 409.86 C845.29 409.43 847.96 409.03 850.64 408.66 C853.32 408.28 856.01 407.93 858.70 407.61 C861.38 407.28 864.08 406.97 866.77 406.69 C869.47 406.41 872.17 406.15 874.87 405.92 C877.57 405.68 880.27 405.46 882.98 405.27 C885.68 405.08 888.39 404.90 891.10 404.75 C893.80 404.60 896.51 404.47 899.22 404.36 C901.93 404.25 904.64 404.16 907.35 404.09 C910.05 404.01 912.76 403.96 915.47 403.93 C918.17 403.89 920.88 403.88 923.58 403.88 C926.28 403.88 928.99 403.91 931.68 403.94 C934.38 403.98 937.08 404.04 939.77 404.11 C942.46 404.18 945.15 404.27 947.83 404.37 C950.52 404.47 953.20 404.60 955.87 404.73 C958.55 404.87 961.22 405.02 963.88 405.18 C966.54 405.35 970.53 405.63 971.85 405.72" fill="none" stroke="#4a944a" stroke-width="0.9"/>
<rect x="117.75" y="549.30" width="17.90" height="18.80" fill="none" stroke="#008000" stroke-width="3.50"/>
<rect x="223.05" y="531.90" width="17.90" height="18.80" fill="none" stroke="#008000" stroke-width="3.50"/>
<rect x="338.05" y="524.30" width="17.90" height="18.80" fill="none" stroke="#008000" stroke-width="3.50"/>
<rect x="439.15" y="415.60" width="17.90" height="18.80" fill="none" stroke="#008000" stroke-width="3.50"/>
<rect x="539.65" y="499.80" width="17.90" height="18.80" fill="none" stroke="#008000" stroke-width="3.50"/>
<rect x="751.85" y="416.90" width="17.90" height="18.80" fill="none" stroke="#008000" stroke-width="3.50"/>
<rect x="962.05" y="394.80" width="17.90" height="18.80" fill="none" stroke="#008000" stroke-width="3.50"/>
</g>
<line x1="126.70" y1="582.84" x2="133.05" y2="582.84" stroke="#000" stroke-width="3.30" stroke-linecap="round"/>
<line x1="126.70" y1="535.68" x2="139.15" y2="535.68" stroke="#000" stroke-width="3.30" stroke-linecap="round"/>
<line x1="126.70" y1="488.53" x2="133.05" y2="488.53" stroke="#000" stroke-width="3.30" stroke-linecap="round"/>
<line x1="126.70" y1="441.37" x2="139.15" y2="441.37" stroke="#000" stroke-width="3.30" stroke-linecap="round"/>
<line x1="126.70" y1="394.21" x2="133.05" y2="394.21" stroke="#000" stroke-width="3.30" stroke-linecap="round"/>
<line x1="126.70" y1="347.06" x2="139.15" y2="347.06" stroke="#000" stroke-width="3.30" stroke-linecap="round"/>
<line x1="126.70" y1="299.90" x2="133.05" y2="299.90" stroke="#000" stroke-width="3.30" stroke-linecap="round"/>
<line x1="126.70" y1="252.74" x2="139.15" y2="252.74" stroke="#000" stroke-width="3.30" stroke-linecap="round"/>
<line x1="126.70" y1="205.58" x2="133.05" y2="205.58" stroke="#000" stroke-width="3.30" stroke-linecap="round"/>
<line x1="126.70" y1="158.42" x2="139.15" y2="158.42" stroke="#000" stroke-width="3.30" stroke-linecap="round"/>
<line x1="126.70" y1="111.27" x2="133.05" y2="111.27" stroke="#000" stroke-width="3.30" stroke-linecap="round"/>
<line x1="126.70" y1="64.11" x2="139.15" y2="64.11" stroke="#000" stroke-width="3.30" stroke-linecap="round"/>
<line x1="126.70" y1="16.95" x2="133.05" y2="16.95" stroke="#000" stroke-width="3.30" stroke-linecap="round"/>
<line x1="211.60" y1="630.00" x2="211.60" y2="623.45" stroke="#000" stroke-width="3.50" stroke-linecap="round"/>
<line x1="295.10" y1="630.00" x2="295.10" y2="616.65" stroke="#000" stroke-width="3.50" stroke-linecap="round"/>
<line x1="379.90" y1="630.00" x2="379.90" y2="623.45" stroke="#000" stroke-width="3.50" stroke-linecap="round"/>
<line x1="465.60" y1="630.00" x2="465.60" y2="616.65" stroke="#000" stroke-width="3.50" stroke-linecap="round"/>
<line x1="548.90" y1="630.00" x2="548.90" y2="623.45" stroke="#000" stroke-width="3.50" stroke-linecap="round"/>
<line x1="634.10" y1="630.00" x2="634.10" y2="616.65" stroke="#000" stroke-width="3.50" stroke-linecap="round"/>
<line x1="717.80" y1="630.00" x2="717.80" y2="623.45" stroke="#000" stroke-width="3.50" stroke-linecap="round"/>
<line x1="802.80" y1="630.00" x2="802.80" y2="616.65" stroke="#000" stroke-width="3.50" stroke-linecap="round"/>
<line x1="887.60" y1="630.00" x2="887.60" y2="623.45" stroke="#000" stroke-width="3.50" stroke-linecap="round"/>
<rect x="126.70" y="6.55" width="845.30" height="623.45" fill="none" stroke="#000" stroke-width="3.60"/>
<text transform="translate(114.8 640.30) rotate(0.04)" font-size="34.3" text-anchor="end">0</text>
<text transform="translate(114.8 545.98) rotate(0.04)" font-size="34.3" text-anchor="end">50</text>
<text transform="translate(114.8 451.27) rotate(0.04)" font-size="34.3" text-anchor="end">100</text>
<text transform="translate(114.8 357.16) rotate(0.04)" font-size="34.3" text-anchor="end">150</text>
<text transform="translate(114.8 263.04) rotate(0.04)" font-size="34.3" text-anchor="end">200</text>
<text transform="translate(114.8 167.82) rotate(0.04)" font-size="34.3" text-anchor="end">250</text>
<text transform="translate(114.8 73.51) rotate(0.04)" font-size="34.3" text-anchor="end">300</text>
<text transform="translate(126.70 668.3) rotate(0.04)" font-size="34.4" text-anchor="middle">0.5</text>
<text transform="translate(295.76 668.3) rotate(0.04)" font-size="34.4" text-anchor="middle">0.6</text>
<text transform="translate(464.82 668.3) rotate(0.04)" font-size="34.4" text-anchor="middle">0.7</text>
<text transform="translate(633.88 668.3) rotate(0.04)" font-size="34.4" text-anchor="middle">0.8</text>
<text transform="translate(802.94 668.3) rotate(0.04)" font-size="34.4" text-anchor="middle">0.9</text>
<text transform="translate(972.00 668.3) rotate(0.04)" font-size="34.4" text-anchor="middle">1.0</text>
<text transform="translate(548.9 720) rotate(0.04) scale(1.10 1)" font-size="50.6" font-style="italic" text-anchor="middle">x</text>
<g transform="translate(29.90 453.00) rotate(-90.04)">
<text transform="translate(-1.03 0) scale(1.05 1)" font-size="40.3">M</text>
<text x="34.4" y="15.2" font-size="25">S</text>
<text x="47.5" y="0" font-size="38.1">(emu/g</text>
<text transform="translate(155.6 14.0) scale(0.83 1)" font-size="28">FeCo</text>
<text x="204.8" y="0" font-size="38.1">)</text>
</g>
<circle cx="786.8" cy="32.8" r="11.8" fill="#000"/>
<path d="M787.3 61.8 L799.8 82.8 L774.9 82.8 Z" fill="#ff0000" stroke="#ff0000" stroke-width="1.4" stroke-linejoin="round"/>
<rect x="777.9" y="108.4" width="18.5" height="18.1" fill="none" stroke="#008000" stroke-width="3.5"/>
<path d="M752.5 159.6 H823" fill="none" stroke="#0000ff" stroke-width="1.5" stroke-dasharray="8.4 6.7"/>
<text transform="translate(828.7 43.30) rotate(0.04)" font-size="33.5" x="0 0 51.8 65.8">T&#160;5K</text>
<rect x="856.8" y="29.70" width="16.7" height="2.7" fill="#000"/>
<rect x="856.8" y="37.20" width="16.7" height="2.7" fill="#000"/>
<text transform="translate(828.7 84.60) rotate(0.04)" font-size="33.5" x="0 0 52.2 67.6 80.7">T&#160;80K</text>
<rect x="856.8" y="71.00" width="16.7" height="2.7" fill="#000"/>
<rect x="856.8" y="78.50" width="16.7" height="2.7" fill="#000"/>
<text transform="translate(828.7 126.00) rotate(0.04)" font-size="33.5" x="0 0 51.7 65.8 80.1 95.0">T&#160;300K</text>
<rect x="856.8" y="112.40" width="16.7" height="2.7" fill="#000"/>
<rect x="856.8" y="119.90" width="16.7" height="2.7" fill="#000"/>
<text transform="translate(830.4 168.8) rotate(0.04)" font-size="33.5" letter-spacing="-1.6">bulk alloy</text>
<text transform="translate(659.5 542.6) rotate(0.04)" font-size="38.5">(Fe<tspan font-size="23" dy="14.2">x</tspan><tspan dy="-14.2">Co</tspan><tspan font-size="23" dy="14.2">1-x</tspan><tspan dy="-14.2">)</tspan><tspan font-size="23" dy="14.2">0.6</tspan><tspan dy="-14.2">B</tspan><tspan font-size="23" dy="14.2">0.4</tspan></text>
<text transform="translate(658.7 595.7) rotate(0.04)" font-size="38.45">Dispersed Sample</text>
</svg></body></html>
